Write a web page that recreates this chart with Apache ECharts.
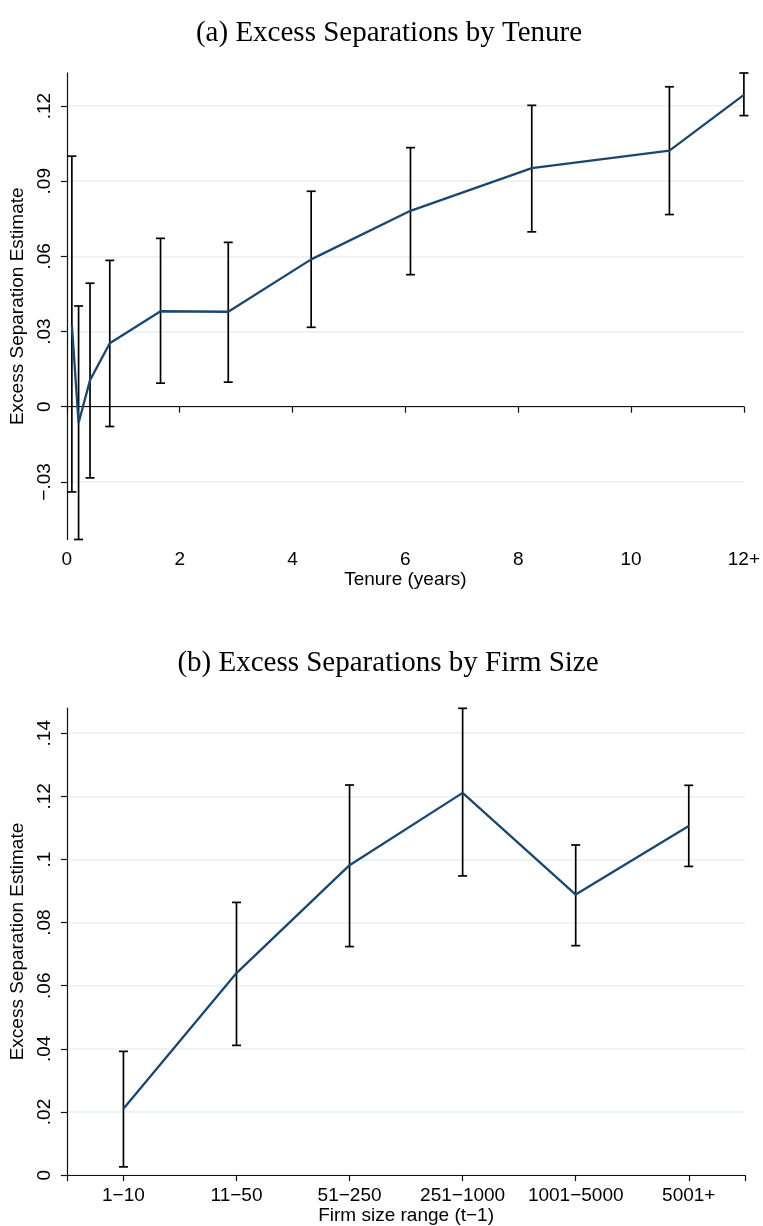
<!DOCTYPE html>
<html><head><meta charset="utf-8">
<script src="https://cdn.jsdelivr.net/npm/echarts@6/dist/echarts.min.js"></script>
<style>html,body{margin:0;padding:0;background:#fff}#c{width:763px;height:1226px}</style>
</head><body><div id="c"></div>
<script>
// ---- Panel (a): tenure ----
const tenureYears = [0.088, 0.207, 0.41, 0.76, 1.66, 2.86, 4.33, 6.09, 8.24, 10.68, 12];
const tenureEst   = [0.0327, -0.0065, 0.0106, 0.0253, 0.0381, 0.0379, 0.0588, 0.0782, 0.0952, 0.1022, 0.1245];
const tenureLo    = [-0.0340, -0.0530, -0.0284, -0.0079, 0.0094, 0.0098, 0.0317, 0.0527, 0.0698, 0.0767, 0.1162];
const tenureHi    = [0.1000, 0.0402, 0.0493, 0.0584, 0.0672, 0.0656, 0.0860, 0.1034, 0.1203, 0.1277, 0.1332];
const tenureXTicks  = [0, 2, 4, 6, 8, 10, 12];
const tenureXLabels = ['0', '2', '4', '6', '8', '10', '12+'];
const tenureYTicks  = [-0.03, 0, 0.03, 0.06, 0.09, 0.12];
const tenureYLabels = ['\u2212.03', '0', '.03', '.06', '.09', '.12'];

// ---- Panel (b): firm size ----
const sizeCats   = ['1\u221210', '11\u221250', '51\u2212250', '251\u22121000', '1001\u22125000', '5001+'];
const sizeEst    = [0.0210, 0.0640, 0.0982, 0.1211, 0.0889, 0.1106];
const sizeLo     = [0.0026, 0.0411, 0.0724, 0.0948, 0.0727, 0.0978];
const sizeHi     = [0.0392, 0.0864, 0.1236, 0.1479, 0.1046, 0.1235];
const sizeYTicks  = [0, 0.02, 0.04, 0.06, 0.08, 0.10, 0.12, 0.14];
const sizeYLabels = ['0', '.02', '.04', '.06', '.08', '.1', '.12', '.14'];

const navy = '#1a476f';
const gridCol = '#e8eff2';
const sans = 'Liberation Sans, Arial, Helvetica, sans-serif';
const serif = 'Liberation Serif, Times New Roman, serif';
const FS = 19;

function lab(ticks, labels) {
  return v => { const i = ticks.findIndex(t => Math.abs(t - v) < 1e-9); return i >= 0 ? labels[i] : ''; };
}
function errBar(params, api) {
  const x = api.value(0), lo = api.value(1), hi = api.value(2);
  const a = api.coord([x, lo]), b = api.coord([x, hi]);
  const hw = 4.5, st = { stroke: '#000', lineWidth: 1.7 };
  return { type: 'group', children: [
    { type: 'line', shape: { x1: a[0], y1: a[1], x2: b[0], y2: b[1] }, style: st },
    { type: 'line', shape: { x1: a[0] - hw, y1: a[1], x2: a[0] + hw, y2: a[1] }, style: st },
    { type: 'line', shape: { x1: b[0] - hw, y1: b[1], x2: b[0] + hw, y2: b[1] }, style: st }
  ]};
}
const axisLine = { show: true, lineStyle: { color: '#111', width: 1.2 } };
const tick = { show: true, length: 6, lineStyle: { color: '#111', width: 1.2 } };
const labelStyle = { color: '#000', fontFamily: sans, fontSize: FS };

const chart = echarts.init(document.getElementById('c'), null, { renderer: 'canvas' });
chart.setOption({
  animation: false,
  backgroundColor: '#fff',
  title: [
    { text: '(a) Excess Separations by Tenure', left: 384, textAlign: 'center', top: 14,
      textStyle: { fontFamily: serif, fontWeight: 'normal', fontSize: 29, color: '#000' } },
    { text: '(b) Excess Separations by Firm Size', left: 383, textAlign: 'center', top: 644,
      textStyle: { fontFamily: serif, fontWeight: 'normal', fontSize: 29, color: '#000' } }
  ],
  grid: [
    { left: 66, top: 73, width: 679.7, height: 466.5, containLabel: false },
    { left: 66.7, top: 708, width: 678.6, height: 467.7, containLabel: false }
  ],
  xAxis: [
    { type: 'value', gridIndex: 0, min: 0, max: 12,
      name: 'Tenure (years)', nameLocation: 'middle', nameGap: 30,
      nameTextStyle: labelStyle,
      axisLine, axisTick: Object.assign({ customValues: tenureXTicks }, tick),
      axisLabel: Object.assign({ customValues: tenureXTicks, margin: 11, formatter: lab(tenureXTicks, tenureXLabels) }, labelStyle),
      splitLine: { show: false } },
    { type: 'value', gridIndex: 1, min: 0.5, max: 6.5,
      name: 'Firm size range (t\u22121)', nameLocation: 'middle', nameGap: 30,
      nameTextStyle: labelStyle,
      axisLine, axisTick: Object.assign({ customValues: [0.5, 1, 2, 3, 4, 5, 6, 6.5] }, tick),
      axisLabel: Object.assign({ customValues: [1, 2, 3, 4, 5, 6], margin: 11,
        formatter: v => sizeCats[Math.round(v) - 1] }, labelStyle),
      splitLine: { show: false } }
  ],
  yAxis: [
    { type: 'value', gridIndex: 0, min: -0.053, max: 0.1332,
      name: 'Excess Separation Estimate', nameLocation: 'middle', nameGap: 32, nameRotate: 90,
      nameTextStyle: labelStyle,
      axisLine, axisTick: Object.assign({ customValues: tenureYTicks }, tick),
      axisLabel: Object.assign({ customValues: tenureYTicks, rotate: 90, margin: 13, formatter: lab(tenureYTicks, tenureYLabels) }, labelStyle),
      splitLine: { show: true, lineStyle: { color: [gridCol, '#cfcfcf', gridCol, gridCol, gridCol, gridCol], width: 1.5 } } },
    { type: 'value', gridIndex: 1, min: 0, max: 0.148,
      name: 'Excess Separation Estimate', nameLocation: 'middle', nameGap: 32, nameRotate: 90,
      nameTextStyle: labelStyle,
      axisLine, axisTick: Object.assign({ customValues: sizeYTicks }, tick),
      axisLabel: Object.assign({ customValues: sizeYTicks, rotate: 90, margin: 13, formatter: lab(sizeYTicks, sizeYLabels) }, labelStyle),
      splitLine: { show: true, lineStyle: { color: gridCol, width: 1.5 } } }
  ],
  series: [
    { type: 'custom', xAxisIndex: 0, yAxisIndex: 0, z: 3, clip: false,
      data: tenureYears.map((x, i) => [x, tenureLo[i], tenureHi[i]]),
      encode: { x: 0, y: [1, 2] }, renderItem: errBar },
    { type: 'line', xAxisIndex: 0, yAxisIndex: 0, z: 4, symbol: 'none', showSymbol: false,
      data: tenureYears.map((x, i) => [x, tenureEst[i]]),
      lineStyle: { color: navy, width: 2.3 } },
    { type: 'custom', xAxisIndex: 1, yAxisIndex: 1, z: 3, clip: false,
      data: sizeCats.map((c, i) => [i + 1, sizeLo[i], sizeHi[i]]),
      encode: { x: 0, y: [1, 2] }, renderItem: errBar },
    { type: 'line', xAxisIndex: 1, yAxisIndex: 1, z: 4, symbol: 'none', showSymbol: false,
      data: sizeCats.map((c, i) => [i + 1, sizeEst[i]]),
      lineStyle: { color: navy, width: 2.3 } }
  ]
});
</script></body></html>
